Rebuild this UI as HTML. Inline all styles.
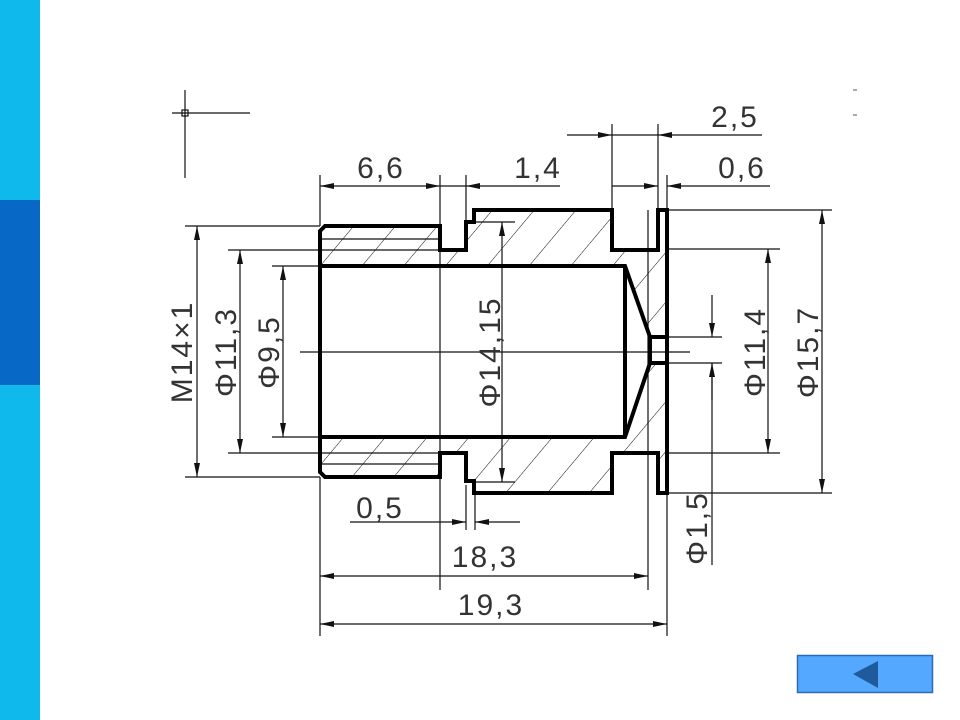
<!DOCTYPE html>
<html><head><meta charset="utf-8"><style>
html,body{margin:0;padding:0;background:#fff;}
body{width:960px;height:720px;position:relative;overflow:hidden;}
.bar{position:absolute;left:0;width:40px;}
</style></head><body>
<div class="bar" style="top:0;height:200px;background:#10b9ec"></div>
<div class="bar" style="top:200px;height:185px;background:#0768c6"></div>
<div class="bar" style="top:385px;height:335px;background:#10b9ec"></div>
<svg width="960" height="720" style="position:absolute;left:0;top:0" xmlns="http://www.w3.org/2000/svg">
<defs>
<pattern id="h" patternUnits="userSpaceOnUse" width="32" height="40" patternTransform="rotate(40)">
<line x1="0" y1="0" x2="0" y2="40" stroke="#111" stroke-width="1"/>
</pattern>
<clipPath id="mat"><path clip-rule="evenodd" d="M320,231 L325,226 L440,226 L440,250 L466,250 L466,222 L474,222 L474,210 L612,210 L612,250 L658,250 L658,210 L667,210 L667,493 L658,493 L658,453 L612,453 L612,493 L474,493 L474,481 L466,481 L466,453 L440,453 L440,477 L325,477 L320,472 Z M320,266 L625,266 L650,337 L667,337 L667,363 L650,363 L625,437 L320,437 Z"/></clipPath>
<marker id="a" viewBox="0 0 14 7" refX="14" refY="3.5" markerWidth="14" markerHeight="7" markerUnits="userSpaceOnUse" orient="auto-start-reverse"><path d="M0,0.5 L14,3.5 L0,6.5 Z" fill="#111"/></marker>
</defs>
<rect x="300" y="200" width="380" height="300" fill="url(#h)" clip-path="url(#mat)"/>
<g stroke="#111" stroke-width="1.2" fill="none">
<line x1="172" y1="113" x2="250" y2="113"/><line x1="185" y1="90" x2="185" y2="178"/>
<rect x="182" y="110" width="6" height="6"/>
<line x1="300" y1="352" x2="690" y2="352"/>
<line x1="320" y1="239" x2="440" y2="239"/><line x1="320" y1="464" x2="440" y2="464"/>
<line x1="320" y1="175" x2="320" y2="226"/><line x1="440" y1="175" x2="440" y2="590"/>
<line x1="466" y1="175" x2="466" y2="222"/>
<line x1="612" y1="124" x2="612" y2="210"/><line x1="658" y1="124" x2="658" y2="210"/>
<line x1="667" y1="175" x2="667" y2="210"/>
<line x1="648" y1="210" x2="648" y2="590"/>
<line x1="320" y1="477" x2="320" y2="636"/><line x1="667" y1="493" x2="667" y2="636"/>
<line x1="185" y1="226" x2="320" y2="226"/><line x1="185" y1="477" x2="320" y2="477"/>
<line x1="228" y1="250" x2="440" y2="250"/><line x1="228" y1="453" x2="440" y2="453"/>
<line x1="272" y1="266" x2="320" y2="266"/><line x1="272" y1="437" x2="320" y2="437"/>
<line x1="474" y1="222" x2="515" y2="222"/><line x1="474" y1="482" x2="515" y2="482"/>
<line x1="667" y1="210" x2="832" y2="210"/><line x1="667" y1="493" x2="832" y2="493"/>
<line x1="667" y1="249" x2="780" y2="249"/><line x1="667" y1="453" x2="780" y2="453"/>
<line x1="667" y1="337" x2="722" y2="337"/><line x1="667" y1="363" x2="722" y2="363"/>
<line x1="466" y1="485" x2="466" y2="530"/><line x1="475" y1="493" x2="475" y2="530"/>
<line x1="712" y1="363" x2="712" y2="565"/>
</g>
<g stroke="#111" stroke-width="1.2" fill="none">
<line x1="320" y1="186" x2="440" y2="186" marker-start="url(#a)" marker-end="url(#a)"/>
<line x1="440" y1="186" x2="466" y2="186"/>
<line x1="560" y1="186" x2="466" y2="186" marker-end="url(#a)"/>
<line x1="567" y1="135" x2="612" y2="135" marker-end="url(#a)"/>
<line x1="612" y1="135" x2="658" y2="135"/>
<line x1="762" y1="135" x2="658" y2="135" marker-end="url(#a)"/>
<line x1="612" y1="186" x2="658" y2="186" marker-end="url(#a)"/>
<line x1="770" y1="186" x2="667" y2="186" marker-end="url(#a)"/>
<line x1="197" y1="226" x2="197" y2="477" marker-start="url(#a)" marker-end="url(#a)"/>
<line x1="240" y1="250" x2="240" y2="453" marker-start="url(#a)" marker-end="url(#a)"/>
<line x1="283" y1="266" x2="283" y2="437" marker-start="url(#a)" marker-end="url(#a)"/>
<line x1="502" y1="222" x2="502" y2="482" marker-start="url(#a)" marker-end="url(#a)"/>
<line x1="822" y1="210" x2="822" y2="493" marker-start="url(#a)" marker-end="url(#a)"/>
<line x1="768" y1="249" x2="768" y2="453" marker-start="url(#a)" marker-end="url(#a)"/>
<line x1="712" y1="295" x2="712" y2="337" marker-end="url(#a)"/>
<line x1="712" y1="400" x2="712" y2="363" marker-end="url(#a)"/>
<line x1="350" y1="522" x2="466" y2="522" marker-end="url(#a)"/>
<line x1="520" y1="522" x2="475" y2="522" marker-end="url(#a)"/>
<line x1="320" y1="576" x2="648" y2="576" marker-start="url(#a)" marker-end="url(#a)"/>
<line x1="320" y1="624" x2="667" y2="624" marker-start="url(#a)" marker-end="url(#a)"/>
</g>
<g stroke="#000" stroke-width="4" fill="none" stroke-linejoin="miter">
<path d="M320,231 L325,226 L440,226 L440,250 L466,250 L466,222 L474,222 L474,210 L612,210 L612,250 L658,250 L658,210 L667,210 L667,493 L658,493 L658,453 L612,453 L612,493 L474,493 L474,481 L466,481 L466,453 L440,453 L440,477 L325,477 L320,472 Z"/>
<path d="M320,266 L625,266 L650,337 L667,337 M650,337 L650,363 L667,363 M650,363 L625,437 L320,437 M625,266 L625,437"/>
</g>
<g font-family="Liberation Sans, sans-serif" font-size="30" fill="#333" letter-spacing="2">
<text x="381" y="178" text-anchor="middle">6,6</text>
<text x="538" y="178" text-anchor="middle">1,4</text>
<text x="735" y="127" text-anchor="middle">2,5</text>
<text x="742" y="178" text-anchor="middle">0,6</text>
<text x="380" y="518" text-anchor="middle">0,5</text>
<text x="485" y="567" text-anchor="middle">18,3</text>
<text x="491" y="615" text-anchor="middle">19,3</text>
<text transform="translate(192,352) rotate(-90)" text-anchor="middle">M14×1</text>
<text transform="translate(236,352) rotate(-90)" text-anchor="middle">Φ11,3</text>
<text transform="translate(279,352) rotate(-90)" text-anchor="middle">Φ9,5</text>
<text transform="translate(500,352) rotate(-90)" text-anchor="middle">Φ14,15</text>
<text transform="translate(765,352) rotate(-90)" text-anchor="middle">Φ11,4</text>
<text transform="translate(818,352) rotate(-90)" text-anchor="middle">Φ15,7</text>
<text transform="translate(707,528) rotate(-90)" text-anchor="middle">Φ1,5</text>
</g>
<g stroke="#555" stroke-width="1"><line x1="853" y1="90" x2="857" y2="90"/><line x1="853" y1="115" x2="857" y2="115"/></g>
<rect x="797.5" y="655.5" width="135" height="37" fill="#55a8ff" stroke="#2a6ab8" stroke-width="1.5"/>
<path d="M853,674 L878,661 L878,688 Z" fill="#1f5a9c"/>
</svg>
</body></html>
